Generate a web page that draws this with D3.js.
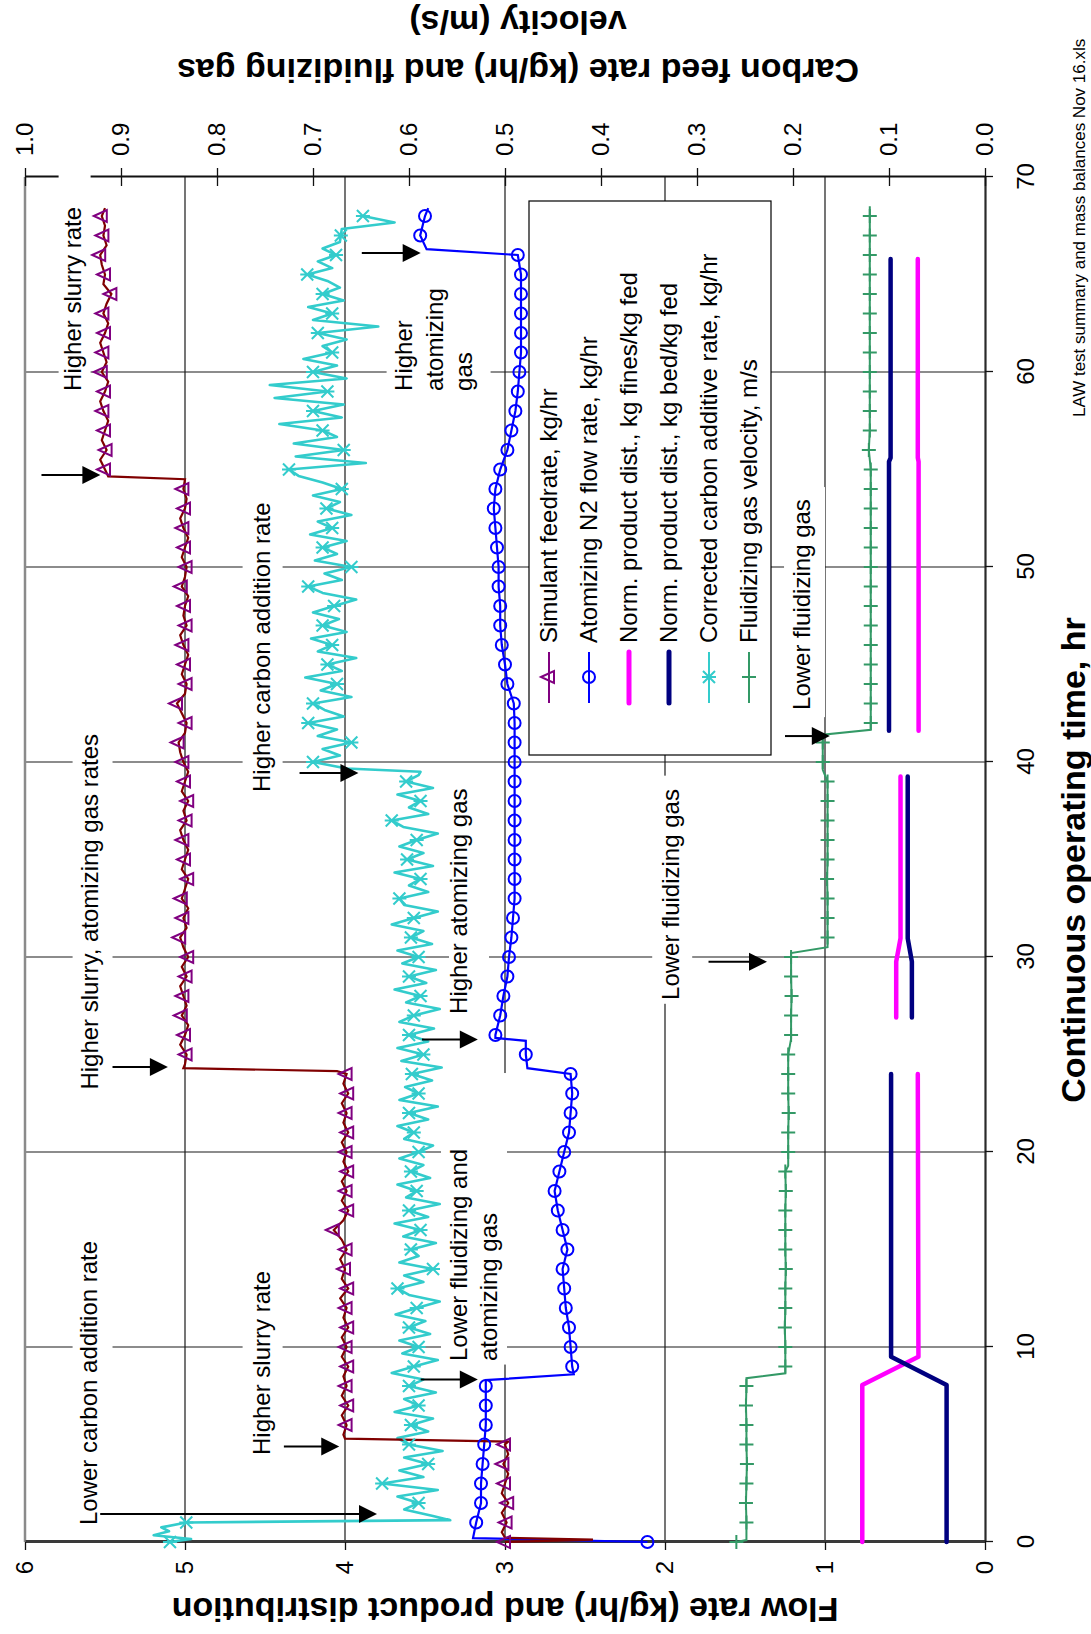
<!DOCTYPE html>
<html><head><meta charset="utf-8">
<script src="https://cdn.jsdelivr.net/npm/d3@7"></script>
<style>body{margin:0;background:#fff}svg{display:block}text{font-family:"Liberation Sans",Arial,sans-serif}</style>
</head><body>
<svg id="chart" width="1091" height="1634"></svg>
<script>
// ---------- data ----------
const timeTicks=[0,10,20,30,40,50,60,70];
const flowTicks=[0,1,2,3,4,5,6];
const secTicks=[0,0.1,0.2,0.3,0.4,0.5,0.6,0.7,0.8,0.9,1.0];
const seriesNames=["Simulant feedrate, kg/hr","Atomizing N2 flow rate, kg/hr","Norm. product dist., kg fines/kg fed","Norm. product dist., kg bed/kg fed","Corrected carbon additive rate, kg/hr","Fluidizing gas velocity, m/s"];
const xTitle="Continuous operating time, hr";
const yTitle="Flow rate (kg/hr) and product distribution";
const y2Title=["Carbon feed rate (kg/hr) and fluidizing gas","velocity (m/s)"];
const footer="LAW test summary and mass balances Nov 16.xls";

// simulant feedrate (primary axis)
const feedRate=[[0,3.0],[0.12,2.45],[0.22,3.0],[0.5,3.02],[1,2.99],[1.5,3.02],[2,2.98],[2.5,3.02],[3,3.0],[3.5,2.98],[4,3.01],[4.5,2.98],[5,3.0],[5.15,2.98],[5.3,4.0],
[5.5,4.01],[6,3.99],[6.5,4.02],[7,3.98],[7.5,4.02],[8,3.99],[8.5,4.01],[9,3.98],[9.5,4.02],[10,3.99],[10.5,4.02],[11,3.98],[11.5,4.01],[12,3.99],[12.5,4.03],[13,3.98],[13.5,4.02],[14,4.0],[14.5,4.03],[15,3.99],[15.5,4.02],[16,4.07],[16.5,4.01],[17,3.98],[17.5,4.02],[18,3.99],[18.5,4.02],[19,3.98],[19.5,4.01],[20,3.99],[20.5,4.02],[21,3.98],[21.5,4.01],[22,3.99],[22.5,4.02],[23,3.98],[23.5,4.01],[24,3.99],[24.15,4.05],[24.3,5.01],
[24.5,5.0],[25,4.99],[25.5,5.03],[26,5.0],[26.5,4.98],[27,5.02],[27.5,4.99],[28,5.01],[28.5,5.03],[29,4.99],[29.5,5.02],[30,4.98],[30.5,5.01],[31,5.03],[31.5,4.99],[32,5.01],[32.5,4.98],[33,5.02],[33.5,5.0],[34,4.98],[34.5,5.02],[35,5.0],[35.5,4.98],[36,5.01],[36.5,5.03],[37,4.99],[37.5,5.01],[38,4.98],[38.5,5.02],[39,5.0],[39.5,4.98],[40,5.01],[40.5,5.03],[41,5.04],[41.5,5.0],[42,4.99],[42.5,5.02],[43,5.05],[43.5,5.0],[44,4.99],[44.5,5.02],[45,5.0],[45.5,4.98],[46,5.01],[46.5,5.03],[47,4.99],[47.5,5.01],[48,5.0],[48.5,4.98],[49,5.02],[49.5,5.0],[50,4.99],[50.5,5.02],[51,5.0],[51.5,4.98],[52,5.01],[52.5,5.03],[53,5.0],[53.5,4.99],[54,5.01],[54.5,5.0],
[54.65,5.48],[55,5.5],[55.5,5.53],[56,5.49],[56.5,5.52],[57,5.5],[57.5,5.48],[58,5.51],[58.5,5.53],[59,5.5],[59.5,5.48],[60,5.52],[60.5,5.49],[61,5.51],[61.5,5.53],[62,5.5],[62.5,5.48],[63,5.51],[63.5,5.49],[64,5.46],[64.5,5.51],[65,5.5],[65.5,5.52],[66,5.53],[66.5,5.49],[67,5.51],[67.5,5.5],[68,5.52],[68.4,5.5]];

// atomizing N2 flow (primary axis)
const n2Rate=[[0,2.11],[0.2,3.2],[1,3.18],[2,3.15],[3,3.15],[4,3.14],[5,3.13],[6,3.12],[7,3.12],[8,3.12],[8.3,3.12],[8.6,2.57],[9,2.58],[10,2.59],[11,2.6],[12,2.62],[13,2.63],[14,2.64],[15,2.61],[16,2.64],[17,2.67],[18,2.69],[19,2.66],[20,2.63],[21,2.6],[22,2.59],[23,2.58],[24,2.59],[24.3,2.86],[25,2.87],[25.7,2.87],[25.85,3.06],[26,3.06],[27,3.03],[28,3.01],[29,2.985],[30,2.975],[31,2.96],[32,2.95],[33,2.94],[34,2.94],[35,2.94],[36,2.94],[37,2.94],[38,2.94],[39,2.94],[40,2.94],[41,2.94],[42,2.94],[43,2.945],[44,2.985],[45,3.0],[46,3.02],[47,3.03],[48,3.03],[49,3.04],[50,3.04],[51,3.05],[52,3.06],[53,3.07],[54,3.06],[55,3.03],[56,2.985],[57,2.96],[58,2.935],[59,2.92],[60,2.91],[61,2.9],[62,2.9],[63,2.9],[64,2.9],[65,2.9],[66,2.92],[66.3,3.49],[67,3.53],[68,3.5],[68.4,3.48]];

// normalized product distribution (primary axis), null = gap
const finesDist=[[0,0.767],[8.05,0.767],[9.5,0.416],[24.0,0.42],null,[26.9,0.555],[29.76,0.555],[30.96,0.528],[39.26,0.528],null,[41.6,0.415],[55.4,0.415],[55.6,0.42],[65.8,0.42]];
const bedDist=[[0,0.24],[8.05,0.24],[9.5,0.587],[24.0,0.587],null,[26.9,0.457],[29.76,0.457],[30.96,0.483],[39.26,0.483],null,[41.6,0.6],[55.4,0.6],[55.6,0.59],[65.8,0.59]];

// corrected carbon additive rate (secondary axis)
const carbonRate=[[0,0.849],[0.15,0.827],[0.35,0.866],[0.55,0.85],[0.75,0.858],[1,0.832],[1.12,0.557],
[1.33,0.575],[1.67,0.605],[2,0.59],[2.33,0.612],[2.67,0.57],[3,0.628],[3.33,0.585],[3.67,0.61],[4,0.58],[4.33,0.605],[4.67,0.565],[5,0.6],[5.33,0.612],[5.67,0.58],[6,0.598],[6.33,0.575],[6.67,0.615],[7,0.59],[7.33,0.605],[7.67,0.572],[8,0.6],[8.33,0.585],[8.67,0.618],[9,0.595],[9.33,0.57],[9.67,0.607],[10,0.59],[10.33,0.61],[10.67,0.578],[11,0.6],[11.33,0.583],[11.67,0.614],[12,0.592],[12.33,0.568],[12.67,0.6],[13,0.612],[13.33,0.585],[13.67,0.605],[14,0.575],[14.33,0.61],[14.67,0.59],[15,0.598],[15.33,0.572],[15.67,0.606],[16,0.588],[16.33,0.615],[16.67,0.58],[17,0.6],[17.33,0.568],[17.67,0.603],[18,0.592],[18.33,0.612],[18.67,0.578],[19,0.598],[19.33,0.585],[19.67,0.61],[20,0.59],[20.33,0.575],[20.67,0.605],[21,0.595],[21.33,0.612],[21.67,0.58],[22,0.6],[22.33,0.57],[22.67,0.61],[23,0.59],[23.33,0.604],[23.67,0.576],[24,0.597],[24.33,0.566],[24.67,0.608],[25,0.585],[25.33,0.612],[25.67,0.58],[26,0.6],[26.33,0.574],[26.67,0.61],[27,0.595],[27.33,0.568],[27.67,0.603],[28,0.588],[28.33,0.615],[28.67,0.582],[29,0.6],[29.33,0.572],[29.67,0.607],[30,0.59],[30.33,0.612],[30.67,0.576],[31,0.598],[31.33,0.585],[31.67,0.618],[32,0.595],[32.33,0.57],[32.67,0.605],[33,0.61],[33.33,0.58],[33.67,0.6],[34,0.588],[34.33,0.615],[34.67,0.575],[35,0.602],[35.33,0.585],[35.67,0.61],[36,0.592],[36.33,0.57],[36.67,0.606],[37,0.618],[37.33,0.58],[37.67,0.6],[38,0.588],[38.33,0.612],[38.67,0.575],[39,0.603],[39.33,0.59],[39.5,0.588],
[39.67,0.665],[40,0.7],[40.33,0.672],[40.67,0.69],[41,0.66],[41.33,0.695],[41.67,0.675],[42,0.705],[42.33,0.668],[42.67,0.688],[43,0.7],[43.33,0.66],[43.67,0.692],[44,0.675],[44.33,0.708],[44.67,0.67],[45,0.685],[45.33,0.655],[45.67,0.695],[46,0.68],[46.33,0.702],[46.67,0.665],[47,0.69],[47.33,0.673],[47.67,0.7],[48,0.678],[48.33,0.655],[48.67,0.69],[49,0.705],[49.33,0.67],[49.67,0.688],[50,0.66],[50.33,0.698],[50.67,0.675],[51,0.69],[51.33,0.665],[51.67,0.703],[52,0.68],[52.33,0.695],[52.67,0.66],[53,0.686],[53.33,0.672],[53.67,0.7],[54,0.67],[54.33,0.69],[54.67,0.715],[55,0.725],[55.33,0.645],[55.67,0.718],[56,0.668],[56.33,0.72],[56.67,0.675],[57,0.69],[57.33,0.735],[57.67,0.67],[58,0.7],[58.33,0.668],[58.67,0.74],[59,0.685],[59.33,0.745],[59.67,0.665],[60,0.7],[60.33,0.675],[60.67,0.71],[61,0.68],[61.33,0.69],[61.67,0.665],[62,0.695],[62.33,0.632],[62.67,0.7],[63,0.68],[63.33,0.705],[63.67,0.668],[64,0.69],[64.33,0.672],[64.67,0.685],[65,0.706],[65.33,0.68],[65.67,0.695],[66,0.676],[66.33,0.69],[66.67,0.672],[67,0.671],[67.33,0.67],[67.67,0.615],[68,0.648]];

// fluidizing gas velocity (secondary axis)
const fluidVel=[[0,0.259],[0.1,0.2485],[1,0.2485],[2,0.249],[3,0.2485],[4,0.248],[5,0.2485],[6,0.2485],[7,0.249],[8,0.2485],[8.4,0.2485],[8.65,0.208],[9,0.208],[10,0.208],[11,0.2085],[12,0.208],[13,0.208],[14,0.2075],[15,0.208],[16,0.208],[17,0.208],[18,0.2075],[19,0.208],[19.3,0.205],[20,0.205],[21,0.205],[22,0.2045],[23,0.205],[24,0.205],[25,0.205],[25.8,0.202],[26,0.202],[27,0.202],[28,0.2015],[29,0.202],[30,0.202],[30.2,0.202],[30.5,0.164],[31,0.164],[32,0.164],[33,0.164],[34,0.1645],[35,0.164],[36,0.164],[37,0.164],[38,0.164],[39,0.164],[39.6,0.169],[40,0.169],[41,0.169],[41.4,0.169],[41.65,0.119],[42,0.119],[43,0.119],[44,0.119],[45,0.119],[46,0.119],[47,0.119],[48,0.119],[49,0.119],[50,0.119],[51,0.119],[52,0.119],[53,0.119],[54,0.119],[55,0.119],[56,0.121],[57,0.12],[58,0.12],[59,0.12],[60,0.12],[61,0.12],[62,0.12],[63,0.12],[64,0.12],[65,0.12],[66,0.12],[67,0.12],[68,0.12],[68.5,0.12]];

// annotations text
const noteText=[["Lower carbon addition rate"],["Higher slurry rate"],["Lower fluidizing and","atomizing gas"],["Higher slurry, atomizing gas rates"],["Higher carbon addition rate"],["Higher atomizing gas"],["Higher slurry rate"],["Higher","atomizing","gas"],["Lower fluidizing gas"],["Lower fluidizing gas"]];

// ---------- layout ----------
const notePos=[
 {t:0.87,f:[5.605],box:[0.62,15.7,5.453,5.7025],arrow:[1.44,5.53,3.80]},
 {t:4.46,f:[4.5225],box:[4.2,14.3,4.39,4.64],arrow:[4.9,4.382,4.036]},
 {t:9.28,f:[3.289,3.105],box:[9.1,24.05,2.9875,3.4],arrow:[8.33,3.527,3.17]},
 {t:23.2,f:[5.594],box:[23.0,42.3,5.453,5.7025],arrow:[24.36,5.453,5.107]},
 {t:38.46,f:[4.5225],box:[38.2,53.3,4.39,4.64],arrow:[39.44,4.284,3.916]},
 {t:27.08,f:[3.289],box:[26.8,39.0,3.1,3.35],arrow:[25.77,3.519,3.17]},
 {t:59.03,f:[5.703],box:[58.8,70.4,5.59,5.79],arrow:[54.72,5.897,5.529]},
 {t:59.03,f:[3.635,3.44,3.256],box:[58.8,64.6,3.09,3.74],arrow:[66.1,3.895,3.527]},
 {t:27.8,f:[1.9675],box:[27.6,39.3,1.83,2.08],arrow:[29.76,1.728,1.3625]},
 {t:42.67,f:[1.148],box:[42.3,54.1,1.0,1.256],arrow:[41.33,1.25,0.97]}
];

const FONT='"Liberation Sans",Arial,sans-serif';
const svg=d3.select('#chart');
svg.append('rect').attr('width',1091).attr('height',1634).attr('fill','#fff');
// whole chart drawn unrotated, then turned 90 degrees counter-clockwise
const g=svg.append('g').attr('transform','translate(0,1634) rotate(-90)');
const x=d3.scaleLinear().domain([0,70]).range([92,1457]);
const y=d3.scaleLinear().domain([0,6]).range([985,25]);
const y2=d3.scaleLinear().domain([0,1]).range([985,25]);

// gridlines
g.append('g').selectAll('line').data(timeTicks.filter(t=>t>0&&t<70)).join('line')
 .attr('x1',d=>x(d)).attr('x2',d=>x(d)).attr('y1',y(6)).attr('y2',y(0)).attr('stroke','#1a1a1a').attr('stroke-width',1.2);
g.append('g').selectAll('line').data(flowTicks.filter(f=>f>0&&f<6)).join('line')
 .attr('y1',d=>y(d)).attr('y2',d=>y(d)).attr('x1',x(0)).attr('x2',x(70)).attr('stroke','#1a1a1a').attr('stroke-width',1.2);
// plot border (flow = 6)
g.append('line').attr('x1',x(0)).attr('x2',x(70)).attr('y1',y(6)).attr('y2',y(6)).attr('stroke','#8a8a8a').attr('stroke-width',2.5);

// axes
function styleAxis(sel,col,w){
  sel.select('.domain').attr('stroke',col).attr('stroke-width',w);
  sel.selectAll('.tick line').attr('stroke','#111').attr('stroke-width',1.3);
  sel.selectAll('text').attr('font-size',24).attr('font-family',FONT).attr('fill','#000');
}
const ax1=g.append('g').attr('transform',`translate(${x(0)},0)`)
 .call(d3.axisLeft(y).tickValues(flowTicks).tickFormat(d3.format('d')).tickSize(8).tickPadding(11).tickSizeOuter(0));
styleAxis(ax1,'#3a3a3a',3);
const axT=g.append('g').attr('transform',`translate(0,${y(0)})`)
 .call(d3.axisBottom(x).tickValues(timeTicks).tickFormat(d3.format('d')).tickSize(8).tickSizeOuter(0));
styleAxis(axT,'#2a2a2a',2.2);
axT.selectAll('text').attr('y',41).attr('dy','0.35em');
const ax2=g.append('g').attr('transform',`translate(${x(70)},0)`)
 .call(d3.axisRight(y2).tickValues(secTicks).tickFormat(d3.format('.1f')).tickSize(9).tickPadding(12).tickSizeOuter(0));
styleAxis(ax2,'#111',2.2);
ax2.selectAll('.tick line').attr('x1',-9).attr('x2',9);

// annotation white boxes
g.append('g').selectAll('rect').data(notePos).join('rect')
 .attr('x',d=>x(d.box[0])).attr('width',d=>x(d.box[1])-x(d.box[0]))
 .attr('y',d=>y(d.box[3])).attr('height',d=>y(d.box[2])-y(d.box[3])).attr('fill','#fff');

// series
const lineP=(ys)=>d3.line().defined(d=>d!==null).x(d=>x(d[0])).y(d=>ys(d[1]));
const S=g.append('g');
S.append('path').datum(finesDist).attr('d',lineP(y)).attr('fill','none').attr('stroke','#ff00ff').attr('stroke-width',4.5).attr('stroke-linecap','round').attr('stroke-linejoin','round');
S.append('path').datum(bedDist).attr('d',lineP(y)).attr('fill','none').attr('stroke','#000080').attr('stroke-width',4.5).attr('stroke-linecap','round').attr('stroke-linejoin','round');
S.append('path').datum(fluidVel).attr('d',lineP(y2)).attr('fill','none').attr('stroke','#339966').attr('stroke-width',2);
S.append('path').datum(carbonRate).attr('d',lineP(y2)).attr('fill','none').attr('stroke','#33cccc').attr('stroke-width',2.6).attr('stroke-linejoin','round');
S.append('path').datum(n2Rate).attr('d',lineP(y)).attr('fill','none').attr('stroke','#0000ff').attr('stroke-width',2.2);
S.append('path').datum(feedRate).attr('d',lineP(y)).attr('fill','none').attr('stroke','#800000').attr('stroke-width',2.2);

const triPath='M0,-8L6,5L-6,5Z', starPath='M-6,-6L6,6M-6,6L6,-6M0,-7L0,7', plusPath='M-7,0L7,0M0,-7L0,7';
const hourly=a=>a.filter(d=>d&&Number.isInteger(d[0]));
S.append('g').selectAll('path').data(hourly(fluidVel)).join('path').attr('d',plusPath)
 .attr('transform',d=>`translate(${x(d[0])},${y2(d[1])})`).attr('stroke','#339966').attr('stroke-width',2).attr('fill','none');
S.append('g').selectAll('path').data(hourly(carbonRate)).join('path').attr('d',starPath)
 .attr('transform',d=>`translate(${x(d[0])},${y2(d[1])})`).attr('stroke','#33cccc').attr('stroke-width',2).attr('fill','none');
S.append('g').selectAll('circle').data(hourly(n2Rate)).join('circle')
 .attr('cx',d=>x(d[0])).attr('cy',d=>y(d[1])).attr('r',6).attr('stroke','#0000ff').attr('stroke-width',2).attr('fill','none');
S.append('g').selectAll('path').data(hourly(feedRate)).join('path').attr('d',triPath)
 .attr('transform',d=>`translate(${x(d[0])},${y(d[1])})`).attr('stroke','#800080').attr('stroke-width',2).attr('fill','none');

// annotation text + arrows
const N=g.append('g');
notePos.forEach((p,i)=>{
  noteText[i].forEach((s,j)=>{
    N.append('text').attr('x',x(p.t)).attr('y',y(p.f[j])).attr('dy','0.35em')
     .attr('font-size',24).attr('font-family',FONT).text(s);
  });
  const [ta,f1,f2]=p.arrow, ux=x(ta), u1=y(f1), u2=y(f2);
  N.append('line').attr('x1',ux).attr('x2',ux).attr('y1',u1).attr('y2',u2-14).attr('stroke','#000').attr('stroke-width',2);
  N.append('path').attr('d',`M${ux},${u2}L${ux-9},${u2-18}L${ux+9},${u2-18}Z`).attr('fill','#000');
});

// legend
const L=g.append('g');
L.append('rect').attr('x',879).attr('y',529).attr('width',554).attr('height',242).attr('fill','#fff').attr('stroke','#000').attr('stroke-width',1.2);
const legStyle=[
 {c:'#800080',w:2,m:triPath},{c:'#0000ff',w:2,m:'circle'},{c:'#ff00ff',w:5},{c:'#000080',w:5},{c:'#33cccc',w:2,m:starPath},{c:'#339966',w:2,m:plusPath}];
seriesNames.forEach((nm,i)=>{
  const uy=549+i*40, st=legStyle[i];
  L.append('line').attr('x1',931).attr('x2',982).attr('y1',uy).attr('y2',uy).attr('stroke',st.c).attr('stroke-width',st.w).attr('stroke-linecap',st.m?'butt':'round');
  if(st.m==='circle') L.append('circle').attr('cx',957).attr('cy',uy).attr('r',6).attr('fill','none').attr('stroke',st.c).attr('stroke-width',2);
  else if(st.m) L.append('path').attr('d',st.m).attr('transform',`translate(957,${uy})`).attr('fill','none').attr('stroke',st.c).attr('stroke-width',2);
  L.append('text').attr('x',991).attr('y',uy).attr('dy','0.35em').attr('font-size',24).attr('font-family',FONT).text(nm);
});

// titles
g.append('text').attr('transform',`translate(24,505) rotate(-90)`).attr('text-anchor','middle').attr('dy','0.35em')
 .attr('font-size',34).attr('font-weight','bold').attr('font-family',FONT).text(yTitle);
y2Title.forEach((s,i)=>{
  g.append('text').attr('transform',`translate(${1563+i*48},518) rotate(-90)`).attr('text-anchor','middle').attr('dy','0.35em')
   .attr('font-size',34).attr('font-weight','bold').attr('font-family',FONT).text(s);
});
g.append('text').attr('x',774).attr('y',1073).attr('dy','0.35em').attr('text-anchor','middle')
 .attr('font-size',34).attr('font-weight','bold').attr('font-family',FONT).text(xTitle);
g.append('text').attr('x',1217).attr('y',1079).attr('dy','0.35em').attr('font-size',17).attr('font-family',FONT).text(footer);
</script>
</body></html>
